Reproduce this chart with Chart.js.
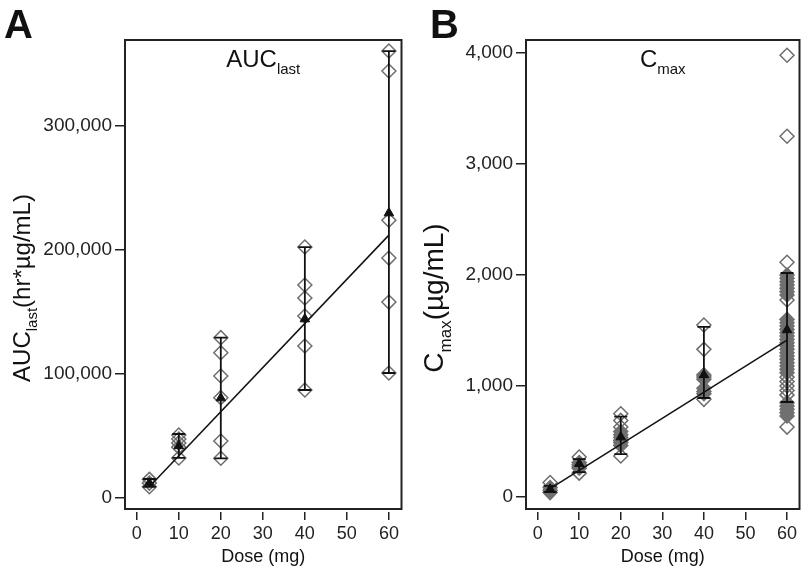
<!DOCTYPE html>
<html>
<head>
<meta charset="utf-8">
<script src="https://cdn.jsdelivr.net/npm/chart.js@4.4.1/dist/chart.umd.min.js"></script>
<style>
  html, body { margin: 0; padding: 0; background: #fff; }
  #wrap { position: relative; width: 808px; height: 570px; }
  .panel { position: absolute; top: 0; height: 570px; }
  #panel-a { left: 0; width: 410px; }
  #panel-b { left: 410px; width: 398px; }
</style>
</head>
<body>
<div id="wrap">
  <div class="panel" id="panel-a"><canvas id="chart-a"></canvas></div>
  <div class="panel" id="panel-b"><canvas id="chart-b"></canvas></div>
</div>
<script>
// Dose-proportionality panels: AUClast (A) and Cmax (B) vs dose.

const FONT = '"Liberation Sans", Arial, sans-serif';

const doses = [3, 10, 20, 40, 60];
const xTicks = [0, 10, 20, 30, 40, 50, 60];

// --- Panel A: AUClast (hr*ug/mL) ---
const aucTicks = [0, 100000, 200000, 300000];
const aucIndividual = [
  [15000, 12000, 9000],
  [50800, 47600, 44400, 41000, 32300],
  [129300, 117200, 98400, 80900, 46000, 32000],
  [202400, 171800, 161300, 146800, 122600, 87100],
  [360500, 344400, 224000, 193500, 158000, 100800],
];
const aucMean = [12000, 42000, 80600, 144300, 229800];
const aucLow = [8900, 32300, 32000, 87100, 100800];
const aucHigh = [15300, 51600, 129300, 202400, 360500];
const aucFitDose = [3, 60];
const aucFit = [9000, 212000];

// --- Panel B: Cmax (ug/mL) ---
const cmaxTicks = [0, 1000, 2000, 3000, 4000];
const cmaxOpen = [
  [130],
  [360, 215],
  [750, 690, 630, 370],
  [1550, 1330, 880],
  [3980, 3250, 2115, 1775, 1080, 1040, 1000, 960, 920, 630],
];
const cmaxFilled = [
  [85, 60, 40],
  [310, 290, 275, 260],
  [590, 560, 535, 510, 490, 465],
  [1100, 1080, 1060, 980, 950, 930],
  [2000, 1970, 1940, 1910, 1880, 1850, 1820,
   1600, 1570, 1540, 1510, 1480, 1450, 1420, 1390, 1360, 1330, 1300, 1270, 1240, 1210, 1180, 1150, 1120,
   850, 820, 790, 760, 730],
];
const cmaxMean = [70, 300, 540, 1100, 1505];
const cmaxLow = [45, 225, 387, 892, 856];
const cmaxHigh = [100, 342, 725, 1532, 2018];
const cmaxFitDose = [3, 60];
const cmaxFit = [75, 1414];

// --- helpers ---
function points(lists) {
  const out = [];
  lists.forEach((vals, i) => vals.forEach((v) => out.push({ x: doses[i], y: v })));
  return out;
}
function meanPoints(vals) {
  return vals.map((v, i) => ({ x: doses[i], y: v }));
}
function barPoints(lo, hi) {
  const out = [];
  doses.forEach((d, i) => {
    out.push({ x: d, y: lo[i] }, { x: d, y: hi[i] }, { x: d, y: null });
  });
  return out;
}
function fitPoints(xs, ys) {
  return xs.map((x, i) => ({ x, y: ys[i] }));
}

// text run with a subscript part, optionally rotated
function drawRuns(ctx, cx, cy, runs, rotated) {
  ctx.save();
  ctx.translate(cx, cy);
  if (rotated) ctx.rotate(-Math.PI / 2);
  let total = 0;
  runs.forEach((r) => {
    ctx.font = r.size + 'px ' + FONT;
    r.w = ctx.measureText(r.t).width;
    total += r.w;
  });
  let x = -total / 2;
  ctx.fillStyle = '#111';
  ctx.textAlign = 'left';
  ctx.textBaseline = 'alphabetic';
  runs.forEach((r) => {
    ctx.font = r.size + 'px ' + FONT;
    ctx.fillText(r.t, x, 8.5 + r.dy);
    x += r.w;
  });
  ctx.restore();
}

const framePlugin = {
  id: 'panelFrame',
  afterDraw(chart, args, opts) {
    const { ctx, chartArea: a } = chart;
    ctx.save();
    // white gap between box and x tick marks
    ctx.fillStyle = '#fff';
    ctx.fillRect(a.left - 2, a.bottom + 1, a.right - a.left + 4, 2);
    ctx.strokeStyle = '#222';
    ctx.lineWidth = 2;
    ctx.strokeRect(a.left, a.top, a.right - a.left, a.bottom - a.top);
    // panel letter
    ctx.fillStyle = '#111';
    ctx.font = 'bold 40px ' + FONT;
    ctx.textAlign = 'left';
    ctx.textBaseline = 'alphabetic';
    ctx.fillText(opts.letter, opts.letterX, 38);
    ctx.restore();
    // in-plot title
    drawRuns(ctx, (a.left + a.right) / 2, 58.5, opts.title, false);
    // y axis title
    drawRuns(ctx, opts.yTitleX, opts.yTitleY, opts.yTitle, true);
  },
};

function makePanel(id, cfg) {
  const datasets = [
    {
      type: 'scatter',
      data: meanPoints(cfg.mean),
      pointStyle: 'triangle',
      pointRadius: 5.5,
      backgroundColor: '#111',
      borderColor: '#111',
      borderWidth: 1,
    },
    {
      type: 'line',
      data: barPoints(cfg.low, cfg.high),
      borderColor: '#111',
      borderWidth: 1.8,
      spanGaps: false,
      pointStyle: 'line',
      pointRadius: 6.5,
      pointBorderWidth: 1.8,
      pointBorderColor: '#111',
    },
    {
      type: 'line',
      data: fitPoints(cfg.fitDose, cfg.fit),
      borderColor: '#111',
      borderWidth: 1.5,
      pointRadius: 0,
    },
  ];
  if (cfg.filled) {
    datasets.push({
      type: 'scatter',
      data: points(cfg.filled),
      pointStyle: 'rectRot',
      pointRadius: 7,
      backgroundColor: '#707070',
      borderColor: '#707070',
      borderWidth: 1.5,
    });
  }
  datasets.push({
    type: 'scatter',
    data: points(cfg.open),
    pointStyle: 'rectRot',
    pointRadius: 7,
    backgroundColor: 'rgba(0,0,0,0)',
    borderColor: '#6e6e6e',
    borderWidth: 1.5,
  });

  return new Chart(document.getElementById(id), {
    type: 'scatter',
    data: { datasets },
    options: {
      responsive: true,
      maintainAspectRatio: false,
      animation: false,
      events: [],
      layout: { padding: { top: 40, right: cfg.padRight, left: 0, bottom: 0 } },
      plugins: {
        legend: { display: false },
        tooltip: { enabled: false },
        panelFrame: {
          letter: cfg.letter,
          letterX: cfg.letterX,
          title: cfg.title,
          yTitle: cfg.yTitle,
          yTitleX: cfg.yTitleX,
          yTitleY: cfg.yTitleY,
        },
      },
      scales: {
        x: {
          type: 'linear',
          min: -2.8,
          max: 63,
          afterFit: (s) => { s.height = 61; },
          afterBuildTicks: (s) => { s.ticks = xTicks.map((v) => ({ value: v })); },
          border: { display: false },
          grid: { drawOnChartArea: false, drawTicks: true, tickLength: 11, color: '#222', lineWidth: 1.5 },
          ticks: { font: { family: FONT, size: 18 }, color: '#222', padding: 3, maxRotation: 0, autoSkip: false },
          title: {
            display: true,
            text: 'Dose (mg)',
            font: { family: FONT, size: 18 },
            color: '#111',
            padding: { top: 0, bottom: 2 },
          },
        },
        y: {
          type: 'linear',
          min: cfg.yMin,
          max: cfg.yMax,
          afterFit: (s) => { s.width = cfg.yWidth; },
          afterBuildTicks: (s) => { s.ticks = cfg.yTicks.map((v) => ({ value: v })); },
          border: { display: false },
          grid: { drawOnChartArea: false, drawTicks: true, tickLength: 10, color: '#222', lineWidth: 1.5 },
          ticks: {
            font: { family: FONT, size: 19 },
            color: '#222',
            padding: 3,
            callback: (v) => v.toLocaleString('en-US'),
          },
        },
      },
    },
    plugins: [framePlugin],
  });
}

makePanel('chart-a', {
  letter: 'A', letterX: 4,
  open: aucIndividual, mean: aucMean, low: aucLow, high: aucHigh,
  fitDose: aucFitDose, fit: aucFit,
  yTicks: aucTicks, yMin: -8900, yMax: 369400,
  yWidth: 125, padRight: 5,
  title: [{ t: 'AUC', size: 24, dy: 0 }, { t: 'last', size: 15, dy: 7 }],
  yTitle: [{ t: 'AUC', size: 24, dy: 0 }, { t: 'last', size: 15, dy: 7 }, { t: '(hr*µg/mL)', size: 24, dy: 0 }],
  yTitleX: 21, yTitleY: 288,
});

makePanel('chart-b', {
  letter: 'B', letterX: 20,
  open: cmaxOpen, filled: cmaxFilled, mean: cmaxMean, low: cmaxLow, high: cmaxHigh,
  fitDose: cmaxFitDose, fit: cmaxFit,
  yTicks: cmaxTicks, yMin: -108, yMax: 4117,
  yWidth: 116, padRight: 3,
  title: [{ t: 'C', size: 24, dy: 0 }, { t: 'max', size: 15, dy: 7 }],
  yTitle: [{ t: 'C', size: 28, dy: 0 }, { t: 'max', size: 17, dy: 8 }, { t: '(µg/mL)', size: 28, dy: 0 }],
  yTitleX: 24, yTitleY: 298,
});
</script>
</body>
</html>
